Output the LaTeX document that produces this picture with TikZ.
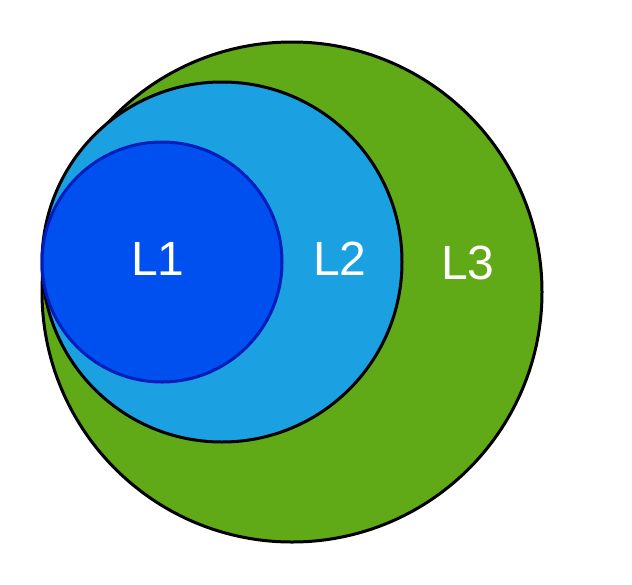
\documentclass[tikz,border=0pt]{standalone}
\usepackage{fontspec}
\setmainfont{Liberation Sans}
\definecolor{lgreen}{HTML}{60A917}
\definecolor{lblue}{HTML}{1BA1E2}
\definecolor{dblue}{HTML}{0050EF}
\definecolor{dbord}{HTML}{001DBC}
\begin{document}
\begin{tikzpicture}[x=1pt,y=-1pt,
  ring/.style={circle,draw=black,line width=3pt,inner sep=0pt},
  lbl/.style={text=white,font=\fontsize{48}{48}\selectfont,inner sep=0pt,anchor=center}]
\useasboundingbox (0,0) rectangle (632,584);
\node[ring,fill=lgreen,minimum size=500pt] (l3) at (292,292) {};
\node[ring,fill=lblue,minimum size=360pt] (l2) at (222,262) {};
\node[ring,draw=dbord,fill=dblue,minimum size=240pt] (l1) at (162,262) {};
\node[lbl] (t1) at (158,259) {L1};
\node[lbl] (t2) at (340,259) {L2};
\node[lbl] (t3) at (468,263) {L3};
\end{tikzpicture}
\end{document}
